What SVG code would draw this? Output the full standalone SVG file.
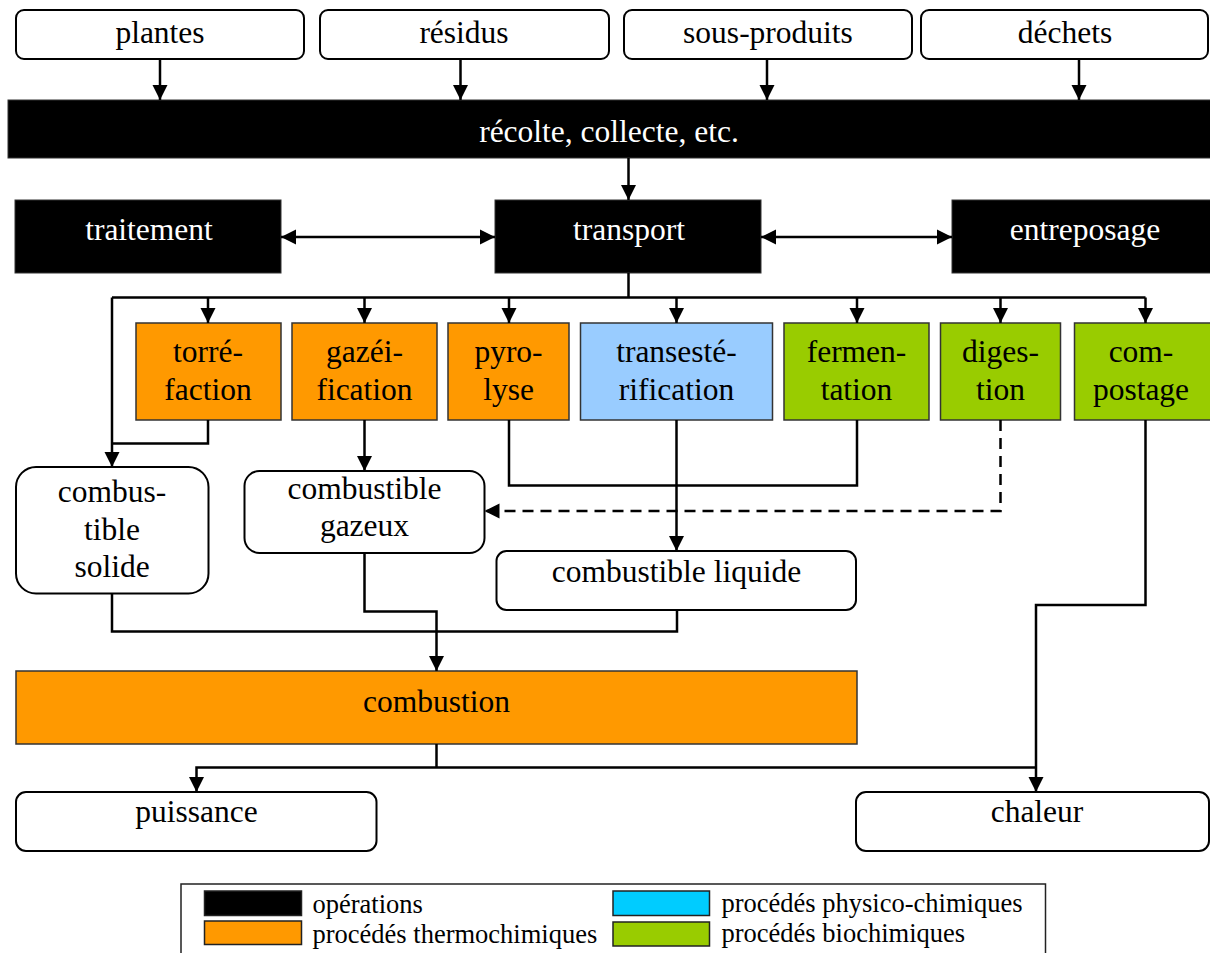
<svg xmlns="http://www.w3.org/2000/svg" width="1210" height="953" viewBox="0 0 1210 953">
<style>
text{font-family:"Liberation Serif","Times New Roman",serif;font-size:31.5px;text-anchor:middle;fill:#000}
.w{fill:#fff}
.lg{font-size:26.5px;text-anchor:start}
.rb{fill:#fff;stroke:#000;stroke-width:2}
.op{fill:#000;stroke:#333;stroke-width:1}
.th{fill:#FF9900;stroke:#333;stroke-width:1.5}
.pc{fill:#99CCFF;stroke:#333;stroke-width:1.5}
.bio{fill:#99CC00;stroke:#333;stroke-width:1.5}
.c{fill:none;stroke:#000;stroke-width:2.5}
.a{marker-end:url(#ah)}
.d{marker-start:url(#ah);marker-end:url(#ah)}
.ds{stroke-dasharray:11 7}
</style>
<defs>
<marker id="ah" markerUnits="userSpaceOnUse" markerWidth="16" markerHeight="16" viewBox="0 0 16 16" refX="15" refY="8" orient="auto-start-reverse">
<path d="M0,0.5 L15,8 L0,15.5 z" fill="#000"/>
</marker>
</defs>

<g id="plantes"><rect class="rb" x="16" y="10" width="288" height="49" rx="8"/><text x="160" y="43">plantes</text></g>
<g id="residus"><rect class="rb" x="320" y="10" width="289" height="49" rx="8"/><text x="464" y="43">résidus</text></g>
<g id="sous-produits"><rect class="rb" x="624" y="10" width="288" height="49" rx="8"/><text x="768" y="43">sous-produits</text></g>
<g id="dechets"><rect class="rb" x="921" y="10" width="287" height="49" rx="8"/><text x="1065" y="43">déchets</text></g>

<g id="recolte"><rect class="op" x="8" y="100" width="1203" height="58"/><text class="w" x="609" y="142">récolte, collecte, etc.</text></g>

<g id="traitement"><rect class="op" x="15" y="200" width="266" height="73"/><text class="w" x="149" y="240">traitement</text></g>
<g id="transport"><rect class="op" x="495" y="200" width="266" height="73"/><text class="w" x="629" y="240">transport</text></g>
<g id="entreposage"><rect class="op" x="952" y="200" width="259" height="73"/><text class="w" x="1085" y="240">entreposage</text></g>

<g id="torrefaction"><rect class="th" x="136" y="323" width="145" height="97"/><text x="208" y="362">torré-</text><text x="208" y="400">faction</text></g>
<g id="gazeification"><rect class="th" x="292" y="323" width="145" height="97"/><text x="364.5" y="362">gazéi-</text><text x="364.5" y="400">fication</text></g>
<g id="pyrolyse"><rect class="th" x="448" y="323" width="121" height="97"/><text x="508.5" y="362">pyro-</text><text x="508.5" y="400">lyse</text></g>
<g id="transesterification"><rect class="pc" x="580.5" y="323" width="192" height="97"/><text x="676.5" y="362">transesté-</text><text x="676.5" y="400">rification</text></g>
<g id="fermentation"><rect class="bio" x="784" y="323" width="145" height="97"/><text x="856.5" y="362">fermen-</text><text x="856.5" y="400">tation</text></g>
<g id="digestion"><rect class="bio" x="940.5" y="323" width="120" height="97"/><text x="1000.5" y="362">diges-</text><text x="1000.5" y="400">tion</text></g>
<g id="compostage"><rect class="bio" x="1074.5" y="323" width="137" height="97"/><text x="1141" y="362">com-</text><text x="1141" y="400">postage</text></g>

<g id="combustible-solide"><rect class="rb" x="16" y="467" width="192.5" height="126.5" rx="20"/><text x="112" y="502">combus-</text><text x="112" y="540">tible</text><text x="112" y="577">solide</text></g>
<g id="combustible-gazeux"><rect class="rb" x="244.5" y="471" width="240" height="82" rx="15"/><text x="364.5" y="499">combustible</text><text x="364.5" y="536">gazeux</text></g>
<g id="combustible-liquide"><rect class="rb" x="496.5" y="551" width="359.5" height="59" rx="10"/><text x="676.5" y="582">combustible liquide</text></g>

<g id="combustion"><rect class="th" x="16" y="671" width="841" height="73"/><text x="436.5" y="712">combustion</text></g>

<g id="puissance"><rect class="rb" x="16" y="792" width="360.5" height="59" rx="10"/><text x="196.5" y="822">puissance</text></g>
<g id="chaleur"><rect class="rb" x="856" y="792" width="353" height="59" rx="10"/><text x="1037" y="822">chaleur</text></g>

<g id="connectors">
<path class="c a" d="M160,59 V100"/>
<path class="c a" d="M460.5,59 V100"/>
<path class="c a" d="M767,59 V100"/>
<path class="c a" d="M1079,59 V100"/>
<path class="c a" d="M628.5,158 V200"/>
<path class="c d" d="M281,237 H495"/>
<path class="c d" d="M761,237 H952"/>
<path class="c" d="M628.5,273 V297.5 M112,297.5 H1145.5"/>
<path class="c a" d="M208,297.5 V323"/>
<path class="c a" d="M364.5,297.5 V323"/>
<path class="c a" d="M509,297.5 V323"/>
<path class="c a" d="M676.5,297.5 V323"/>
<path class="c a" d="M857,297.5 V323"/>
<path class="c a" d="M1000.5,297.5 V323"/>
<path class="c a" d="M1145.5,297.5 V323"/>
<path class="c a" d="M112,297.5 V467"/>
<path class="c" d="M208,420 V443.5 H112"/>
<path class="c a" d="M364.5,420 V471"/>
<path class="c" d="M509,420 V485.5 H857 V420"/>
<path class="c a" d="M676.5,420 V551"/>
<path class="c a ds" d="M1000.5,420 V511 H484.5"/>
<path class="c a" d="M1145.5,420 V605 H1036 V792"/>
<path class="c" d="M112,593.5 V631.5 H677 V610"/>
<path class="c a" d="M364.5,553 V611.5 H436.5 V671"/>
<path class="c" d="M436.5,744 V767.5"/>
<path class="c a" d="M1036,767.5 H196.5 V792"/>
</g>

<g id="legend">
<rect x="181" y="884" width="864.5" height="90" fill="#fff" stroke="#222" stroke-width="1.5"/>
<rect x="204.5" y="891" width="97" height="24.5" fill="#000" stroke="#222" stroke-width="1.5"/>
<rect x="204.5" y="921" width="97" height="23.5" fill="#FF9900" stroke="#222" stroke-width="1.5"/>
<rect x="613" y="891" width="96.5" height="24.5" fill="#00CCFF" stroke="#222" stroke-width="1.5"/>
<rect x="613" y="922" width="96.5" height="24" fill="#99CC00" stroke="#222" stroke-width="1.5"/>
<text class="lg" x="312.5" y="913">opérations</text>
<text class="lg" x="312.5" y="943">procédés thermochimiques</text>
<text class="lg" x="721.5" y="912">procédés physico-chimiques</text>
<text class="lg" x="721.5" y="942">procédés biochimiques</text>
</g>
</svg>
